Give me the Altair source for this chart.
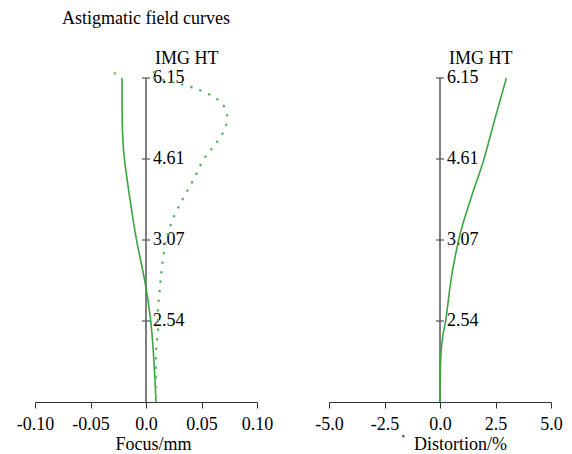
import altair as alt
import pandas as pd

FONT = "Liberation Serif"
GREEN = "#3aa53f"
DOT_GREEN = "#5fb868"
AXIS_GRAY = "#555555"

# IMG HT axis (quarter ticks, labels as printed)
IMG_TICKS = [1.5375, 3.075, 4.6125, 6.15]
IMG_LABELS = ["2.54", "3.07", "4.61", "6.15"]
IMG_MAX = 6.15

# Astigmatic field curves: solid (tangential) curve
TAN_Y = [6.15, 5.37, 5.00, 4.61, 3.85, 3.07, 2.33, 1.58, 0.82, 0.0]
TAN_X = [-0.0216, -0.0216, -0.0210, -0.0198, -0.0144, -0.0090, -0.0009, 0.0045, 0.0072, 0.0090]

# dotted (sagittal) curve
SAG_Y = [6.15, 5.98, 5.85, 5.75, 5.62, 5.43, 5.24, 5.05, 4.88, 4.75, 4.61,
         4.23, 3.89, 3.51, 3.06, 2.56, 2.18, 1.77, 1.35, 0.95, 0.59, 0.0]
SAG_X = [0.0072, 0.0405, 0.056, 0.064, 0.070, 0.073, 0.072, 0.0676, 0.062, 0.057, 0.052,
         0.043, 0.034, 0.025, 0.018, 0.0144, 0.0126, 0.0108, 0.0108, 0.009, 0.009, 0.009]

# Distortion curve
DIST_Y = [0.0, 0.63, 0.95, 1.58, 2.33, 3.07, 3.85, 4.61, 5.37, 6.15]
DIST_X = [0.0, 0.02, 0.05, 0.27, 0.50, 0.84, 1.38, 1.98, 2.47, 2.99]

FOCUS_TICKS = [-0.10, -0.05, 0.0, 0.05, 0.10]
DIST_TICKS = [-5.0, -2.5, 0.0, 2.5, 5.0]

# small end markers
FOCUS_MARK_X = [-0.028, 0.0072]
FOCUS_MARK_Y = [6.24, 6.26]
DIST_MARK_X = [-1.65]
DIST_MARK_Y = [-0.65]


def panel(xdomain, xticks, label_expr, xtitle, title_x, curves, marks, width):
    xs = alt.Scale(domain=xdomain, nice=False, zero=False)
    ys = alt.Scale(domain=[0, IMG_MAX], nice=False, zero=False)
    xaxis = alt.Axis(values=xticks, labelExpr=label_expr, grid=False,
                     labelOverlap=False, labelBound=False, labelFlush=False,
                     domainColor="#333", tickColor="#333", tickSize=6,
                     labelFont=FONT, labelFontSize=18, labelColor="black",
                     labelPadding=7, title=xtitle, titleFont=FONT,
                     titleFontSize=18, titleFontWeight="normal",
                     titleColor="black", titlePadding=2, titleX=title_x)

    axis_df = pd.DataFrame({"x": [0.0], "y": [0.0], "y2": [IMG_MAX]})
    base_axis = alt.Chart(axis_df).mark_rule(color=AXIS_GRAY, strokeWidth=1.5).encode(
        x=alt.X("x:Q", scale=xs, axis=xaxis),
        y=alt.Y("y:Q", scale=ys, axis=None),
        y2="y2:Q",
    )

    tick_df = pd.DataFrame({"x": [0.0] * len(IMG_TICKS), "y": IMG_TICKS, "label": IMG_LABELS})
    ticks = alt.Chart(tick_df).mark_rule(color=AXIS_GRAY, strokeWidth=1.2,
                                         xOffset=-4, x2Offset=4).encode(
        x=alt.X("x:Q", scale=xs), x2="x", y=alt.Y("y:Q", scale=ys))
    tick_text = alt.Chart(tick_df).mark_text(align="left", baseline="middle", dx=7,
                                             font=FONT, fontSize=18, color="black").encode(
        x=alt.X("x:Q", scale=xs), y=alt.Y("y:Q", scale=ys), text="label:N")

    hdr_df = pd.DataFrame({"x": [0.0], "y": [IMG_MAX], "t": ["IMG HT"]})
    hdr = alt.Chart(hdr_df).mark_text(align="left", baseline="middle", dx=9, dy=-19,
                                      font=FONT, fontSize=18, color="black").encode(
        x=alt.X("x:Q", scale=xs), y=alt.Y("y:Q", scale=ys), text="t:N")

    layers = [base_axis, ticks, tick_text, hdr]
    for xv, yv, dotted, interp in curves:
        df = pd.DataFrame({"x": xv, "y": yv, "o": list(range(len(xv)))})
        if dotted:
            m = alt.Chart(df).mark_line(color=DOT_GREEN, strokeWidth=2.6,
                                        strokeDash=[0.1, 9.5], strokeCap="round",
                                        interpolate=interp)
        else:
            m = alt.Chart(df).mark_line(color=GREEN, strokeWidth=1.6,
                                        interpolate=interp)
        layers.append(m.encode(x=alt.X("x:Q", scale=xs), y=alt.Y("y:Q", scale=ys),
                               order="o:Q"))
    mx, my, mcol = marks
    mdf = pd.DataFrame({"x": mx, "y": my})
    layers.append(alt.Chart(mdf).mark_point(shape="square", size=6, filled=True,
                                            color=mcol, opacity=0.9).encode(
        x=alt.X("x:Q", scale=xs), y=alt.Y("y:Q", scale=ys)))
    return alt.layer(*layers).properties(width=width, height=324)


left = panel([-0.1, 0.1], FOCUS_TICKS,
             "replace(datum.value == 0 ? '0.0' : format(datum.value, '.2f'), '\u2212', '-')",
             "Focus/mm", 118,
             [(TAN_X, TAN_Y, False, "basis"), (SAG_X, SAG_Y, True, "catmull-rom")],
             (FOCUS_MARK_X, FOCUS_MARK_Y, "#8fbf3a"), 222).properties(
    title=alt.TitleParams("Astigmatic field curves", font=FONT, fontSize=18,
                          fontWeight="normal", color="black", anchor="middle",
                          offset=22))

right = panel([-5, 5], DIST_TICKS, "replace(format(datum.value, '.1f'), '\u2212', '-')",
              "Distortion/%", 131,
              [(DIST_X, DIST_Y, False, "monotone")],
              (DIST_MARK_X, DIST_MARK_Y, "#3a4a8a"), 222)

chart = alt.hconcat(left, right, spacing=41).properties(
    padding={"left": 8, "top": 2, "right": 0, "bottom": 0}
).configure(background="white", view=alt.ViewConfig(stroke=None, strokeWidth=0))

chart.save("out.html", embed_options={"renderer": "svg", "actions": False})
